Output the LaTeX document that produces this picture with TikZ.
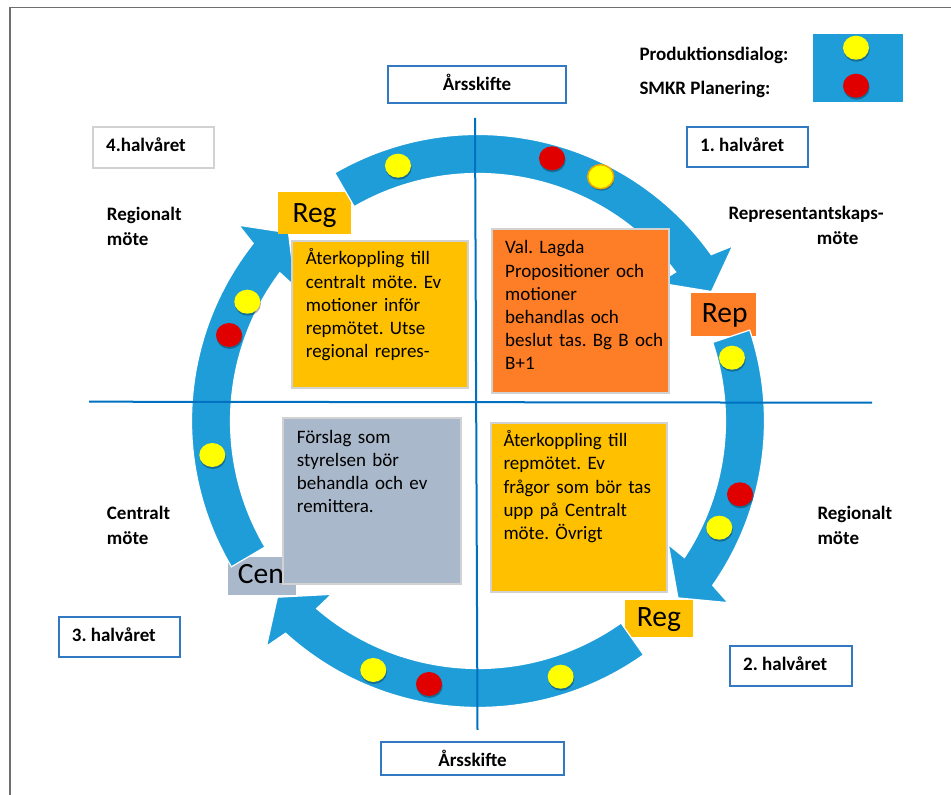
\documentclass[tikz,border=0pt]{standalone}
\usepackage{fontspec}
\setmainfont{Carlito}
\frenchspacing
\usetikzlibrary{calc,shapes.geometric,shadows}
\definecolor{arrowblue}{RGB}{30,157,216}
\definecolor{lineblue}{RGB}{0,112,192}
\definecolor{boxblue}{RGB}{50,120,195}
\definecolor{boxgrayline}{RGB}{210,210,210}
\definecolor{ybox}{RGB}{255,192,0}
\definecolor{obox}{RGB}{253,126,38}
\definecolor{gbox}{RGB}{169,184,203}
\definecolor{framegray}{RGB}{110,110,110}
\definecolor{dotyellow}{RGB}{255,255,0}
\definecolor{dotred}{RGB}{224,0,0}
\definecolor{dotgold}{RGB}{235,170,0}
\newcommand\RingArrow[2]{%
  \pgfmathsetmacro\raOJ{#2+6.5}%
  \pgfmathsetmacro\raOB{#2+5.5}%
  \pgfmathsetmacro\raIB{#2+8.5}%
  \pgfmathsetmacro\raIJ{#2+8}%
  \filldraw[ringarrow] ($(C)+(#1:286.5)$) arc[start angle=#1, end angle=\raOJ, radius=286.5]
    -- ($(C)+(\raOB:309)$) -- ($(C)+(#2:267)$) -- ($(C)+(\raIB:227)$)
    -- ($(C)+(\raIJ:247.5)$) arc[start angle=\raIJ, end angle=#1, radius=247.5] -- cycle;%
}
\begin{document}
\begin{tikzpicture}[x=1pt,y=1pt,
  ringarrow/.style={fill=arrowblue, draw=white, line width=1.2pt},
  hbox/.style={draw=boxblue, line width=1.5pt, fill=white, inner sep=0, outer sep=0},
  gbbox/.style={draw=boxgrayline, line width=1.5pt, fill=white, inner sep=0, outer sep=0},
  tagbox/.style={inner sep=0, outer sep=0},
  bigbox/.style={draw=boxgrayline, line width=1.5pt, inner sep=0, outer sep=0},
  lbl/.style={font=\bfseries\fontsize{19}{24.5}\selectfont, inner sep=0, anchor=base west},
  lbltwo/.style={font=\bfseries\fontsize{19}{24.5}\selectfont, inner sep=0, anchor=base west, text width=170pt, align=left},
  body/.style={font=\fontsize{19}{23.2}\selectfont, inner sep=0, anchor=base west, text width=168pt, align=left},
  tagtext/.style={font=\fontsize{29.5}{30}\selectfont, inner sep=0, anchor=base west},
  spot/.style={ellipse, inner sep=0, minimum width=26pt, minimum height=24pt,
    drop shadow={shadow xshift=0.6pt, shadow yshift=-2pt, opacity=0.3, fill=black}},
  ydot/.style={spot, fill=dotyellow},
  rdot/.style={spot, fill=dotred},
  gdot/.style={spot, fill=dotyellow, draw=dotgold, line width=1.5pt}]
\useasboundingbox (0,0) rectangle (951,795);
% frame
\coordinate (f1) at (10,0);
\coordinate (f2) at (10,787.5);
\coordinate (f3) at (951,787.5);
\draw[framegray, line width=1.5pt] (f1) -- (f2) -- (f3);
\coordinate (C) at (478,374);

% legend
\node[lbl] (leg1) at (639.3,734.3) {Produktionsdialog:};
\node[lbl] (leg2) at (639.3,700) {SMKR Planering:};
\node[tagbox, fill=arrowblue, minimum width=90pt, minimum height=68pt] (legbox) at (858,727) {};

% period boxes
\node[hbox, minimum width=178pt, minimum height=37pt] (ars1) at (477,710.5) {};
\node[lbl, anchor=base] (ars1t) at (477,704.3) {Årsskifte};
\node[hbox, minimum width=183pt, minimum height=33pt] (ars2) at (472.5,36.5) {};
\node[lbl, anchor=base] (ars2t) at (472.5,28.3) {Årsskifte};
\node[gbbox, minimum width=121pt, minimum height=41pt] (h4) at (153.5,647.5) {};
\node[lbl] (h4t) at (106,643.3) {4.halvåret};
\node[hbox, minimum width=121pt, minimum height=40pt] (h1) at (747.5,648) {};
\node[lbl] (h1t) at (700,643.3) {1. halvåret};
\node[hbox, minimum width=121pt, minimum height=40pt] (h3) at (119.5,158) {};
\node[lbl] (h3t) at (71.7,153.3) {3. halvåret};
\node[hbox, minimum width=122pt, minimum height=40pt] (h2) at (791,129) {};
\node[lbl] (h2t) at (743,124) {2. halvåret};

% meeting labels
\node[lbltwo] (m1) at (106.7,574) {Regionalt\\möte};
\node[lbltwo] (m2) at (728.3,575) {Representantskaps-\\\hspace*{88.4pt}möte};
\node[lbltwo] (m3) at (817.3,275) {Regionalt\\möte};
\node[lbltwo] (m4) at (106.7,275) {Centralt\\möte};

% tags under arcs
\node[tagbox, fill=obox, minimum width=65pt, minimum height=43pt] (rep) at (723.5,480.5) {};
\node[tagtext] (rept) at (701.7,472.3) {Rep};
\node[tagbox, fill=ybox, minimum width=68pt, minimum height=37pt] (reg2) at (659,176.5) {};
\node[tagtext] (reg2t) at (636.7,168.3) {Reg};

% bottom arc
\RingArrow{-54.7}{-138.7}

\node[tagbox, fill=gbox, minimum width=68pt, minimum height=38pt] (cen) at (262,219) {};
\node[tagtext] (cent) at (237.7,211) {Cen};

% left arc
\RingArrow{210.6}{135.2}

\node[tagbox, fill=ybox, minimum width=73pt, minimum height=42pt] (reg1) at (314.5,582) {};
\node[tagtext] (reg1t) at (292.3,572.3) {Reg};

% top arc and right arc
\RingArrow{120}{29}
\RingArrow{18.5}{-41.5}

% text boxes
\node[bigbox, fill=ybox, minimum width=176pt, minimum height=147pt] (yb1) at (380,480.5) {};
\node[body] (yb1t) at (305.7,530) {Återkoppling till\\centralt möte. Ev\\motioner inför\\repmötet. Utse\\regional repres-};
\node[bigbox, fill=obox, minimum width=177pt, minimum height=164pt] (ob) at (580.5,484) {};
\node[body] (obt) at (505,541) {Val. Lagda\\Propositioner och\\motioner\\behandlas och\\beslut tas. Bg B och\\B+1};
\node[bigbox, fill=gbox, minimum width=178pt, minimum height=166pt] (gb) at (372,294) {};
\node[body] (gbt) at (296.7,351.7) {Förslag som\\styrelsen bör\\behandla och ev\\remittera.};
\node[bigbox, fill=ybox, minimum width=176pt, minimum height=169pt] (yb2) at (579,287.5) {};
\node[body] (yb2t) at (503.3,348.3) {Återkoppling till\\repmötet. Ev\\frågor som bör tas\\upp på Centralt\\möte. Övrigt};

% axes
\coordinate (vtop) at (475,677);
\coordinate (vbot) at (477.5,65);
\coordinate (hl) at (89,393.3);
\coordinate (hr) at (872,392.3);
\draw[lineblue, line width=2pt] (vtop) -- (vbot);
\draw[lineblue, line width=2pt] (hl) -- (hr);

% dots
\node[ydot] (lgy) at (856,747.3) {};
\node[rdot] (lgr) at (856,709.3) {};
\node[ydot] (t1) at (398,629.3) {};
\node[rdot] (t2) at (552,636.7) {};
\node[gdot] (t3) at (600.7,618.3) {};
\node[ydot] (r1) at (732,437.3) {};
\node[rdot] (r2) at (740,300.7) {};
\node[ydot] (r3) at (719.3,267.3) {};
\node[ydot] (b1) at (560.7,118.3) {};
\node[rdot] (b2) at (429,111) {};
\node[ydot] (b3) at (373.3,125) {};
\node[ydot] (l1) at (212.3,340) {};
\node[ydot] (l2) at (247.3,493.3) {};
\node[rdot] (l3) at (229,460) {};
\end{tikzpicture}
\end{document}
